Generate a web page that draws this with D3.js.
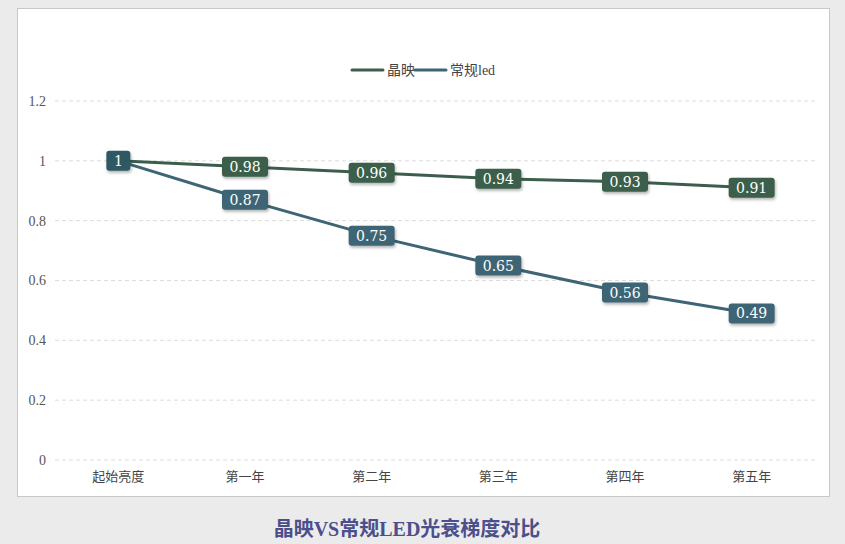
<!DOCTYPE html>
<html>
<head>
<meta charset="utf-8">
<script src="https://cdn.jsdelivr.net/npm/d3@7"></script>
<style>
  body { margin: 0; background: #ebebeb; }
  svg { display: block; }
</style>
</head>
<body>
<svg width="845" height="544"></svg>
<script>
const categories = ["起始亮度", "第一年", "第二年", "第三年", "第四年", "第五年"];
const jingying = [1, 0.98, 0.96, 0.94, 0.93, 0.91];
const normalLed = [1, 0.87, 0.75, 0.65, 0.56, 0.49];
const yTicks = [0, 0.2, 0.4, 0.6, 0.8, 1, 1.2];
const seriesNames = ["晶映", "常规led"];
const colors = ["#3b5e4c", "#3d6574"];
const chartTitle = "晶映VS常规LED光衰梯度对比";

const svg = d3.select("svg");
const serif = "'Liberation Serif', 'Noto Sans CJK SC', serif";
const digitFont = "'DejaVu Serif', serif";

// panel
svg.append("rect")
    .attr("x", 17.5).attr("y", 8.5)
    .attr("width", 812).attr("height", 488)
    .attr("fill", "#fff")
    .attr("stroke", "#c8c8c8");

const defs = svg.append("defs");
const filter = defs.append("filter").attr("id", "shadow")
    .attr("x", "-30%").attr("y", "-30%").attr("width", "160%").attr("height", "180%");
filter.append("feDropShadow")
    .attr("dx", 1).attr("dy", 2).attr("stdDeviation", 1.5)
    .attr("flood-color", "#000").attr("flood-opacity", 0.3);

const x = d3.scaleBand().domain(categories).range([55, 815]);
const y = d3.scaleLinear().domain([0, 1.2]).range([460, 101]);

// grid
svg.append("g")
    .selectAll("line")
    .data(yTicks)
    .join("line")
    .attr("x1", 55).attr("x2", 815)
    .attr("y1", d => y(d)).attr("y2", d => y(d))
    .attr("stroke", "#dcdcdc")
    .attr("stroke-dasharray", "4,3");

// y axis labels
svg.append("g")
    .selectAll("text")
    .data(yTicks)
    .join("text")
    .attr("x", 46)
    .attr("y", d => y(d))
    .attr("dy", "0.35em")
    .attr("text-anchor", "end")
    .attr("font-family", serif)
    .attr("font-size", 14)
    .attr("fill", "#555")
    .text(d => d);

// x axis labels
svg.append("g")
    .selectAll("text")
    .data(categories)
    .join("text")
    .attr("x", d => x(d) + x.bandwidth() / 2)
    .attr("y", 481)
    .attr("text-anchor", "middle")
    .attr("font-family", serif)
    .attr("font-size", 13)
    .attr("fill", "#444")
    .text(d => d);

const series = [jingying, normalLed];
const cx = i => x(categories[i]) + x.bandwidth() / 2;

const line = d3.line()
    .x((d, i) => cx(i))
    .y(d => y(d));

series.forEach((vals, s) => {
    svg.append("path")
        .attr("d", line(vals))
        .attr("fill", "none")
        .attr("stroke", colors[s])
        .attr("stroke-width", 3);
});

// labels (draw green first, blue on top)
series.forEach((vals, s) => {
    const g = svg.append("g");
    vals.forEach((v, i) => {
        if (s === 0 && i === 0) return;
        const txt = String(v);
        const w = txt.length === 1 ? 24 : 46;
        const lg = g.append("g")
            .attr("transform", `translate(${cx(i)},${y(v)})`);
        lg.append("rect")
            .attr("x", -w / 2).attr("y", -10)
            .attr("width", w).attr("height", 20)
            .attr("rx", 3)
            .attr("fill", i === 0 ? "#2f5864" : colors[s])
            .attr("filter", "url(#shadow)");
        lg.append("text")
            .attr("dy", "0.36em")
            .attr("text-anchor", "middle")
            .attr("font-family", digitFont)
            .attr("font-size", 14)
            .attr("fill", "#fff")
            .text(txt);
    });
});

// legend
const legend = svg.append("g");
const legendX = [352, 415];
seriesNames.forEach((name, s) => {
    legend.append("line")
        .attr("x1", legendX[s]).attr("x2", legendX[s] + 31)
        .attr("y1", 70).attr("y2", 70)
        .attr("stroke", colors[s])
        .attr("stroke-width", 3)
        .attr("stroke-linecap", "round");
    legend.append("text")
        .attr("x", legendX[s] + 35)
        .attr("y", 70)
        .attr("dy", "0.35em")
        .attr("font-family", serif)
        .attr("font-size", 14)
        .attr("fill", "#444")
        .text(name);
});

// title
svg.append("text")
    .attr("x", 407)
    .attr("y", 529)
    .attr("dy", "0.35em")
    .attr("text-anchor", "middle")
    .attr("font-family", serif)
    .attr("font-size", 20)
    .attr("font-weight", "bold")
    .attr("fill", "#4b4f8c")
    .text(chartTitle);
</script>
</body>
</html>
